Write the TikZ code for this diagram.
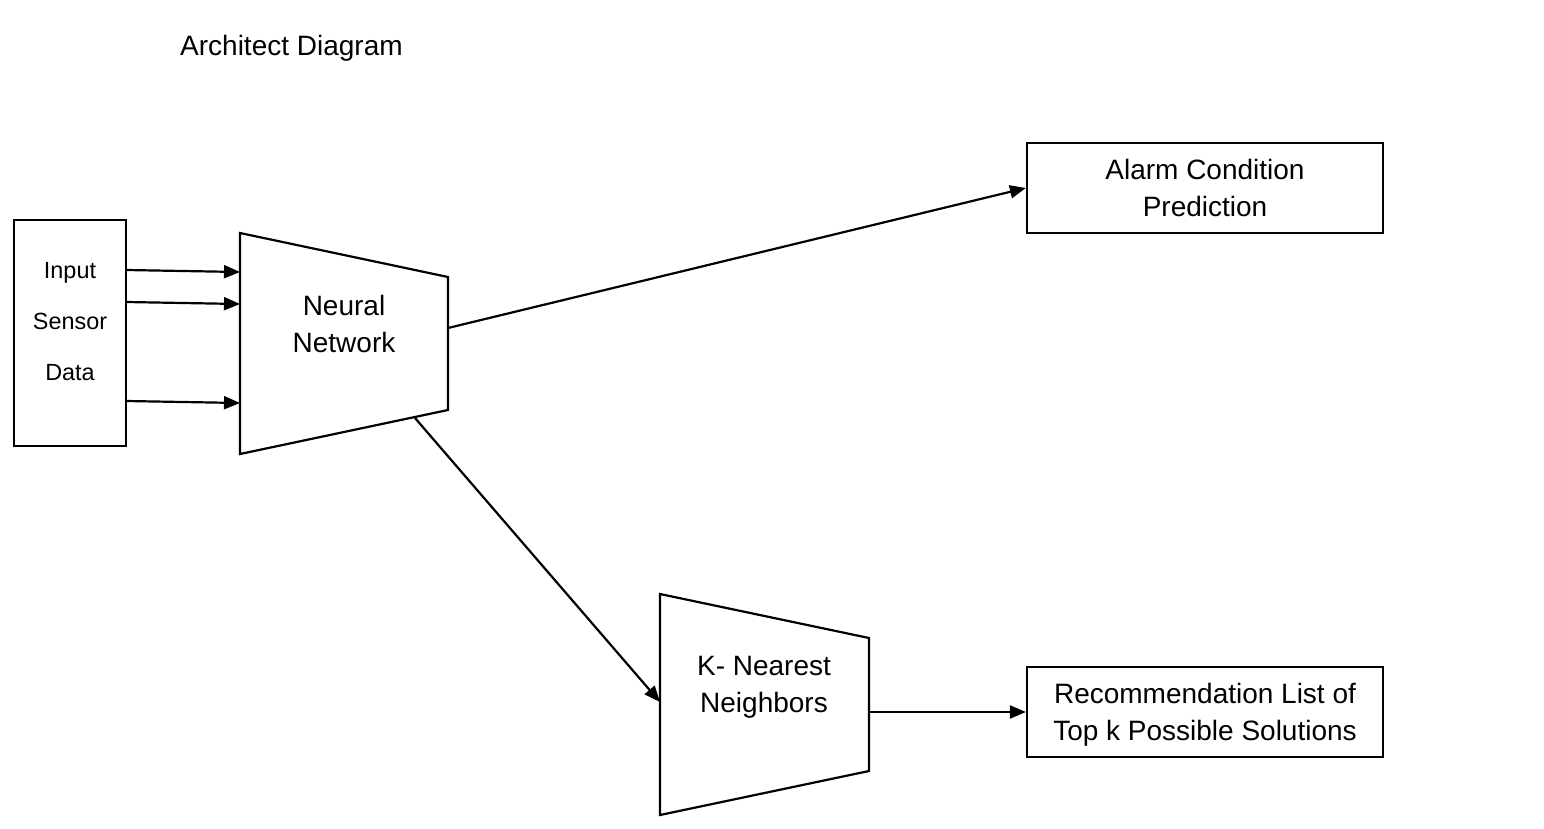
\documentclass[tikz,border=0pt]{standalone}
\usepackage{fontspec}
\setmainfont{Liberation Sans}
\usetikzlibrary{arrows.meta}
\begin{document}
\begin{tikzpicture}[x=1pt,y=-1pt,
  lw/.style={line width=2.2pt},
  box/.style={draw, lw, inner sep=0pt, align=center},
  arr/.style={lw, -{Triangle[length=16pt,width=13pt]}},
  bigtxt/.style={font=\fontsize{28}{37}\selectfont, align=center, inner sep=0pt},
  smalltxt/.style={font=\fontsize{23.4}{51}\selectfont, align=center, inner sep=0pt}]
\useasboundingbox (0,0) rectangle (1544,829);

% title
\node[bigtxt, anchor=base west] (title) at (180,56) {Architect Diagram};

% input box
\node[box, minimum width=112pt, minimum height=226pt] (inp) at (70,333) {};
\node[smalltxt] (inptxt) at (70,322) {Input\\Sensor\\Data};

% neural network trapezoid
\coordinate (nn1) at (240,233);
\coordinate (nn2) at (448,277);
\coordinate (nn3) at (448,410);
\coordinate (nn4) at (240,454);
\draw[lw, line join=miter] (nn1) -- (nn2) -- (nn3) -- (nn4) -- cycle;
\node[bigtxt] (nntxt) at (344,324) {Neural\\Network};

% knn trapezoid
\coordinate (kn1) at (660,594);
\coordinate (kn2) at (869,638);
\coordinate (kn3) at (869,771);
\coordinate (kn4) at (660,815);
\draw[lw, line join=miter] (kn1) -- (kn2) -- (kn3) -- (kn4) -- cycle;
\node[bigtxt] (kntxt) at (764,687) {K- Nearest\\Neighbors};

% output boxes
\node[box, minimum width=356pt, minimum height=90pt] (alarm) at (1205,188) {};
\node[bigtxt] (alarmtxt) at (1205,188) {Alarm Condition\\Prediction};
\node[box, minimum width=356pt, minimum height=90pt] (rec) at (1205,712) {};
\node[bigtxt] (rectxt) at (1205,715) {Recommendation List of\\Top k Possible Solutions};

% connector endpoints
\coordinate (i1) at (126,270);
\coordinate (i2) at (126,302);
\coordinate (i3) at (126,401);
\coordinate (n1) at (240,272);
\coordinate (n2) at (240,304);
\coordinate (n3) at (240,403);
\coordinate (nnout) at (448,328);
\coordinate (nnbot) at (415,418);
\coordinate (knin) at (660,702);
\coordinate (knout) at (869,712);

\draw[arr] (i1) -- (n1);
\draw[arr] (i2) -- (n2);
\draw[arr] (i3) -- (n3);
\draw[arr] (nnout) -- (alarm.west);
\draw[arr] (nnbot) -- (knin);
\draw[arr] (knout) -- (knout -| rec.west);
\end{tikzpicture}
\end{document}
